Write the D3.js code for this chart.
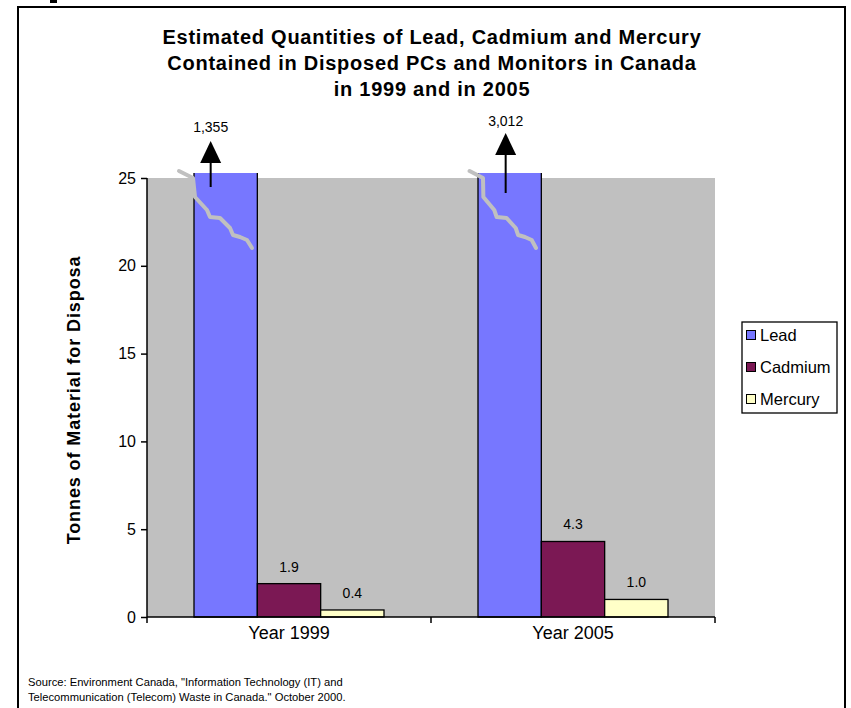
<!DOCTYPE html>
<html>
<head>
<meta charset="utf-8">
<script src="https://cdn.jsdelivr.net/npm/d3@7/dist/d3.min.js"></script>
<style>
  html, body { margin: 0; padding: 0; background: #fff; }
  svg { display: block; }
  text { font-family: "Liberation Sans", Arial, sans-serif; fill: #000; }
</style>
</head>
<body>
<svg id="chart" width="851" height="708"></svg>
<script>
// ---- data ----
const categories = ["Year 1999", "Year 2005"];
const series = ["Lead", "Cadmium", "Mercury"];
const lead = [1355, 3012];
const cadmium = [1.9, 4.3];
const mercury = [0.4, 1.0];
const yTicks = [0, 5, 10, 15, 20, 25];
const titleLines = [
  "Estimated Quantities of Lead, Cadmium and Mercury",
  "Contained in Disposed PCs and Monitors in Canada",
  "in 1999 and in 2005"
];
const yTitle = "Tonnes of Material for Disposa";
const sourceLines = [
  "Source:  Environment Canada, \"Information Technology (IT) and",
  "Telecommunication (Telecom) Waste in Canada.\"  October 2000."
];

// ---- styles / layout ----
const colors = { Lead: "#7777FF", Cadmium: "#7B1854", Mercury: "#FFFFC8" };
const plotBg = "#C0C0C0";
const plot = { left: 147, right: 715, top: 178, bottom: 617 };
const yMax = 25;
// annotation arrow layout (offsets from lead bar center / axis top), per category
const arrowLayout = [
  { dx: -15, bottom: 9, tip: -37, labelGap: 9 },
  { dx: -4, bottom: 15, tip: -45, labelGap: 7 }
];
// break (squiggle) line shape relative to lead bar left / axis top
const breakShape = [[-15,-7],[-1,0],[1,19],[13,32],[16,39],[26,40],[36,50],[39,57],[46,59],[53,62],[58,70]];
const breakShift = [0, 6];

const svg = d3.select("#chart");

// frame
svg.append("rect").attr("x", 18).attr("y", 7).attr("width", 827).attr("height", 720)
  .attr("fill", "none").attr("stroke", "#000").attr("stroke-width", 2);
svg.append("rect").attr("x", 50).attr("y", 0).attr("width", 7).attr("height", 3).attr("fill", "#000");

// scales
const x0 = d3.scaleBand().domain(categories).range([plot.left, plot.right]).paddingInner(0).paddingOuter(0);
const groupPad = 47;
const x1 = d3.scaleBand().domain(series).range([groupPad, x0.bandwidth() - groupPad]).padding(0);
const y = d3.scaleLinear().domain([0, yMax]).range([plot.bottom, plot.top]);

// plot background
svg.append("rect").attr("x", plot.left).attr("y", plot.top)
  .attr("width", plot.right - plot.left).attr("height", plot.bottom - plot.top)
  .attr("fill", plotBg);

const rows = categories.map((c, i) => ({
  cat: c, i,
  values: [
    { s: "Lead", v: lead[i] },
    { s: "Cadmium", v: cadmium[i] },
    { s: "Mercury", v: mercury[i] }
  ]
}));

const g = svg.append("g");
rows.forEach(r => {
  r.values.forEach(d => {
    const xl = x0(r.cat) + x1(d.s);
    const w = x1.bandwidth();
    if (d.v > yMax) {
      const top = y(yMax) - 5;
      g.append("rect").attr("x", xl).attr("y", top).attr("width", w)
        .attr("height", y(0) - top).attr("fill", colors[d.s]);
      g.append("path")
        .attr("d", `M${xl},${top}V${y(0)}H${xl + w}V${top}`)
        .attr("fill", "none").attr("stroke", "#000").attr("stroke-width", 1.3);
    } else {
      g.append("rect").attr("x", xl).attr("y", y(d.v)).attr("width", w)
        .attr("height", y(0) - y(d.v)).attr("fill", colors[d.s])
        .attr("stroke", "#000").attr("stroke-width", 1.3);
      g.append("text").attr("x", xl + w / 2).attr("y", y(d.v) - 12)
        .attr("text-anchor", "middle").attr("font-size", 14)
        .text(d3.format(".1f")(d.v));
    }
  });
});

// break lines and arrows for clipped lead bars
rows.forEach(r => {
  const d = r.values[0];
  const xl = x0(r.cat) + x1(d.s);
  const w = x1.bandwidth();
  const sh = breakShift[r.i];
  const pts = breakShape.map(p => [xl + p[0] + sh * (1 - p[1] / 70), y(yMax) + p[1]]);
  svg.append("path").attr("d", d3.line()(pts))
    .attr("fill", "none").attr("stroke", plotBg).attr("stroke-width", 4)
    .attr("stroke-linejoin", "round").attr("stroke-linecap", "round");

  const a = arrowLayout[r.i];
  const cx = xl + w / 2 + a.dx;
  const tip = y(yMax) + a.tip;
  const base = tip + 22;
  svg.append("line").attr("x1", cx).attr("x2", cx)
    .attr("y1", y(yMax) + a.bottom).attr("y2", base)
    .attr("stroke", "#000").attr("stroke-width", 2);
  svg.append("path").attr("d", `M${cx},${tip}L${cx + 10.5},${base}L${cx - 10.5},${base}Z`)
    .attr("fill", "#000");
  svg.append("text").attr("x", cx).attr("y", tip - a.labelGap)
    .attr("text-anchor", "middle").attr("font-size", 14)
    .text(d3.format(",")(d.v));
});

// y axis
const yAxis = svg.append("g").attr("transform", `translate(${plot.left},0)`)
  .call(d3.axisLeft(y).tickValues(yTicks).tickSize(6).tickPadding(5).tickFormat(d3.format("d")));
yAxis.select(".domain").attr("stroke", "#000").attr("stroke-width", 1.5).attr("d", `M0,${plot.top}V${plot.bottom}`);
yAxis.selectAll(".tick line").attr("stroke", "#000").attr("stroke-width", 1.5);
yAxis.selectAll(".tick text").attr("font-size", 16).attr("font-family", "Liberation Sans, Arial, sans-serif").attr("fill", "#000");

// x axis
const xAxis = svg.append("g").attr("transform", `translate(0,${plot.bottom})`)
  .call(d3.axisBottom(x0).tickSize(0).tickPadding(18));
xAxis.select(".domain").attr("stroke", "#000").attr("stroke-width", 1.5)
  .attr("d", `M${plot.left},0H${plot.right}`);
xAxis.selectAll(".tick text").attr("font-size", 18).attr("font-family", "Liberation Sans, Arial, sans-serif")
  .attr("fill", "#000").attr("dy", "0.2em");
const xTickPos = [plot.left].concat(categories.map(c => x0(c) + x0.bandwidth()));
xAxis.selectAll(".xt").data(xTickPos).join("line").attr("class", "xt")
  .attr("x1", d => d).attr("x2", d => d).attr("y1", 0).attr("y2", 6)
  .attr("stroke", "#000").attr("stroke-width", 1.5);

// title
svg.append("g").selectAll("text").data(titleLines).join("text")
  .attr("x", 432).attr("y", (d, i) => 43.5 + i * 26)
  .attr("text-anchor", "middle").attr("font-size", 20).attr("font-weight", "bold")
  .attr("letter-spacing", 0.75)
  .text(d => d);

// y title
svg.append("text")
  .attr("transform", `translate(80,400) rotate(-90)`)
  .attr("text-anchor", "middle").attr("font-size", 18).attr("font-weight", "bold")
  .attr("letter-spacing", 0.9)
  .text(yTitle);

// legend
const lg = svg.append("g");
lg.append("rect").attr("x", 742).attr("y", 322).attr("width", 95).attr("height", 91)
  .attr("fill", "#fff").attr("stroke", "#000").attr("stroke-width", 1.3);
series.forEach((s, i) => {
  const cy = 335 + i * 32;
  lg.append("rect").attr("x", 746.5).attr("y", cy - 4.5).attr("width", 9).attr("height", 9)
    .attr("fill", colors[s]).attr("stroke", "#000").attr("stroke-width", 1);
  lg.append("text").attr("x", 760).attr("y", cy + 6).attr("font-size", 16.5).text(s);
});

// source
svg.append("g").selectAll("text").data(sourceLines).join("text")
  .attr("x", 28).attr("y", (d, i) => 686 + i * 15)
  .attr("font-size", 11.2)
  .text(d => d);
</script>
</body>
</html>
